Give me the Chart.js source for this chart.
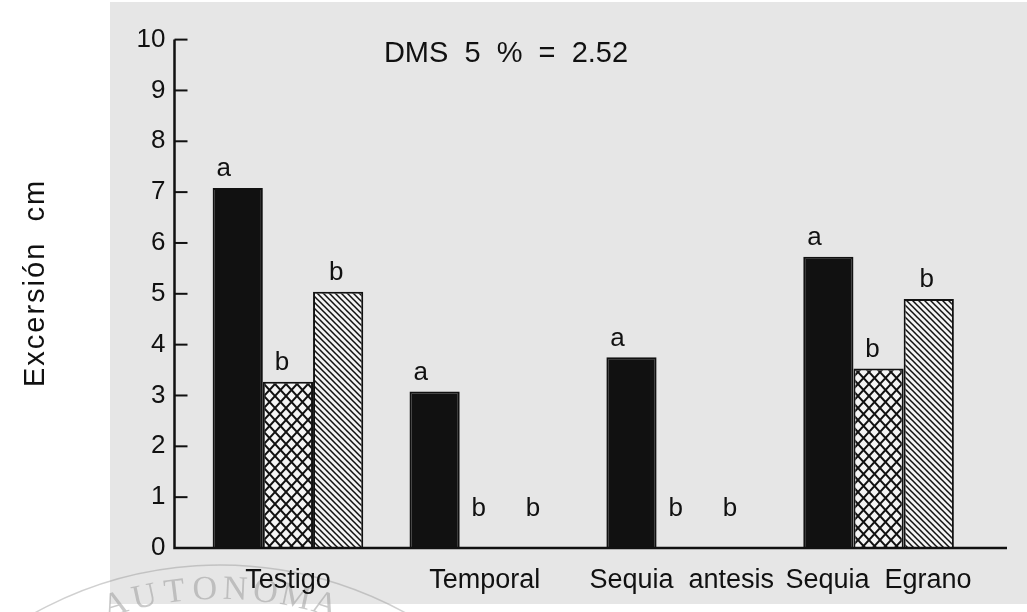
<!DOCTYPE html>
<html>
<head>
<meta charset="utf-8">
<script src="https://cdn.jsdelivr.net/npm/chart.js@4"></script>
<style>
  html, body { margin: 0; padding: 0; background: #fff; }
  #wrap { width: 1027px; height: 612px; }
</style>
</head>
<body>
<div id="wrap"><canvas id="chart" width="1027" height="612"></canvas></div>
<script>
const categories = ['Testigo', 'Temporal', 'Sequia  antesis', 'Sequia  Egrano'];
const solidValues = [7.08, 3.08, 3.75, 5.73];
const crossValues = [3.27, 0, 0, 3.53];
const hatchValues = [5.04, 0, 0, 4.9];
const solidLetters = ['a', 'a', 'a', 'a'];
const crossLetters = ['b', 'b', 'b', 'b'];
const hatchLetters = ['b', 'b', 'b', 'b'];
const yTicks = [0, 1, 2, 3, 4, 5, 6, 7, 8, 9, 10];
const note = 'DMS  5  %  =  2.52';
const yTitle = 'Excersión  cm';

const INK = '#111';
const FONT = '"Liberation Sans", Arial, sans-serif';

function crossPattern() {
  const c = document.createElement('canvas');
  c.width = 11; c.height = 12;
  const g = c.getContext('2d');
  g.fillStyle = '#f4f4f4';
  g.fillRect(0, 0, 11, 12);
  g.strokeStyle = INK;
  g.lineWidth = 2;
  g.beginPath();
  g.moveTo(0, 0); g.lineTo(11, 12);
  g.moveTo(11, 0); g.lineTo(0, 12);
  g.stroke();
  return g.createPattern(c, 'repeat');
}

function hatchPattern() {
  const c = document.createElement('canvas');
  c.width = 6; c.height = 6;
  const g = c.getContext('2d');
  g.fillStyle = '#f4f4f4';
  g.fillRect(0, 0, 6, 6);
  g.strokeStyle = INK;
  g.lineWidth = 1.5;
  g.beginPath();
  g.moveTo(-1, -1); g.lineTo(7, 7);
  g.moveTo(5, -1); g.lineTo(7, 1);
  g.moveTo(-1, 5); g.lineTo(1, 7);
  g.stroke();
  return g.createPattern(c, 'repeat');
}

const backdrop = {
  id: 'backdrop',
  beforeDraw(chart) {
    const ctx = chart.ctx;
    ctx.save();
    ctx.fillStyle = '#fff';
    ctx.fillRect(0, 0, chart.width, chart.height);
    ctx.fillStyle = '#e6e6e6';
    ctx.fillRect(110, 2, chart.width - 110, 602);
    // faint seal watermark at the bottom left
    ctx.strokeStyle = 'rgba(150,150,150,0.45)';
    ctx.lineWidth = 1.5;
    ctx.beginPath(); ctx.arc(220, 947, 382, Math.PI * 1.1, Math.PI * 1.9); ctx.stroke();
    ctx.beginPath(); ctx.arc(220, 947, 332, Math.PI * 1.1, Math.PI * 1.9); ctx.stroke();
    ctx.fillStyle = 'rgba(150,150,150,0.5)';
    ctx.font = '34px "Liberation Serif", serif';
    ctx.textAlign = 'center';
    ctx.textBaseline = 'middle';
    const word = 'AUTONOMA';
    for (let i = 0; i < word.length; i++) {
      const a = -Math.PI / 2 + (i - 3.5) * 0.085;
      ctx.save();
      ctx.translate(220 + 357 * Math.cos(a), 947 + 357 * Math.sin(a));
      ctx.rotate(a + Math.PI / 2);
      ctx.fillText(word[i], 0, 0);
      ctx.restore();
    }
    ctx.restore();
  }
};

const axesAndLabels = {
  id: 'axesAndLabels',
  afterDraw(chart) {
    const ctx = chart.ctx;
    const area = chart.chartArea;
    const y = chart.scales.y;
    const axisX = area.left - 15;
    const base = y.getPixelForValue(0);
    ctx.save();
    ctx.strokeStyle = INK;
    ctx.lineWidth = 2.5;
    ctx.beginPath();
    ctx.moveTo(axisX, y.getPixelForValue(10));
    ctx.lineTo(axisX, base);
    ctx.lineTo(area.right + 30, base);
    ctx.stroke();
    ctx.lineWidth = 2;
    yTicks.forEach(v => {
      const py = y.getPixelForValue(v);
      ctx.beginPath();
      ctx.moveTo(axisX, py);
      ctx.lineTo(axisX + 13, py);
      ctx.stroke();
    });

    // letters of significance above bars
    ctx.fillStyle = INK;
    ctx.font = '26px ' + FONT;
    ctx.textAlign = 'center';
    ctx.textBaseline = 'bottom';
    const letters = [solidLetters, crossLetters, hatchLetters];
    const shifts = [-14, -6, -2];
    chart.data.datasets.forEach((ds, di) => {
      chart.getDatasetMeta(di).data.forEach((bar, i) => {
        const v = ds.data[i];
        const ty = v > 0 ? bar.y - 6 : base - 26;
        ctx.fillText(letters[di][i], bar.x + shifts[di], ty);
      });
    });

    ctx.font = '29px ' + FONT;
    ctx.textBaseline = 'middle';
    ctx.fillText(note, 506, 54);

    ctx.translate(36, 283);
    ctx.rotate(-Math.PI / 2);
    ctx.font = '29px ' + FONT;
    ctx.letterSpacing = '2px';
    ctx.fillText(yTitle, 0, 0);
    ctx.restore();
  }
};

const ctx = document.getElementById('chart').getContext('2d');
new Chart(ctx, {
  type: 'bar',
  data: {
    labels: categories,
    datasets: [
      { label: 'solid', data: solidValues, backgroundColor: INK, borderColor: INK, borderWidth: 2 },
      { label: 'cross', data: crossValues, backgroundColor: crossPattern(), borderColor: INK, borderWidth: 2 },
      { label: 'hatch', data: hatchValues, backgroundColor: hatchPattern(), borderColor: INK, borderWidth: 2 }
    ]
  },
  options: {
    responsive: false,
    animation: false,
    layout: { padding: { top: 38, right: 50, left: 0, bottom: 0 } },
    datasets: { bar: { categoryPercentage: 0.765, barPercentage: 1 } },
    plugins: { legend: { display: false }, tooltip: { enabled: false } },
    scales: {
      x: {
        grid: { display: false, drawTicks: false },
        border: { display: false },
        ticks: { color: INK, font: { family: FONT, size: 27 }, padding: 16, maxRotation: 0, autoSkip: false },
        afterFit(s) { s.height = 64; }
      },
      y: {
        min: 0, max: 10,
        grid: { display: false, drawTicks: false },
        border: { display: false },
        ticks: { stepSize: 1, color: INK, font: { family: FONT, size: 26 }, padding: 24 },
        afterFit(s) { s.width = 189.5; }
      }
    }
  },
  plugins: [backdrop, axesAndLabels]
});
</script>
</body>
</html>
